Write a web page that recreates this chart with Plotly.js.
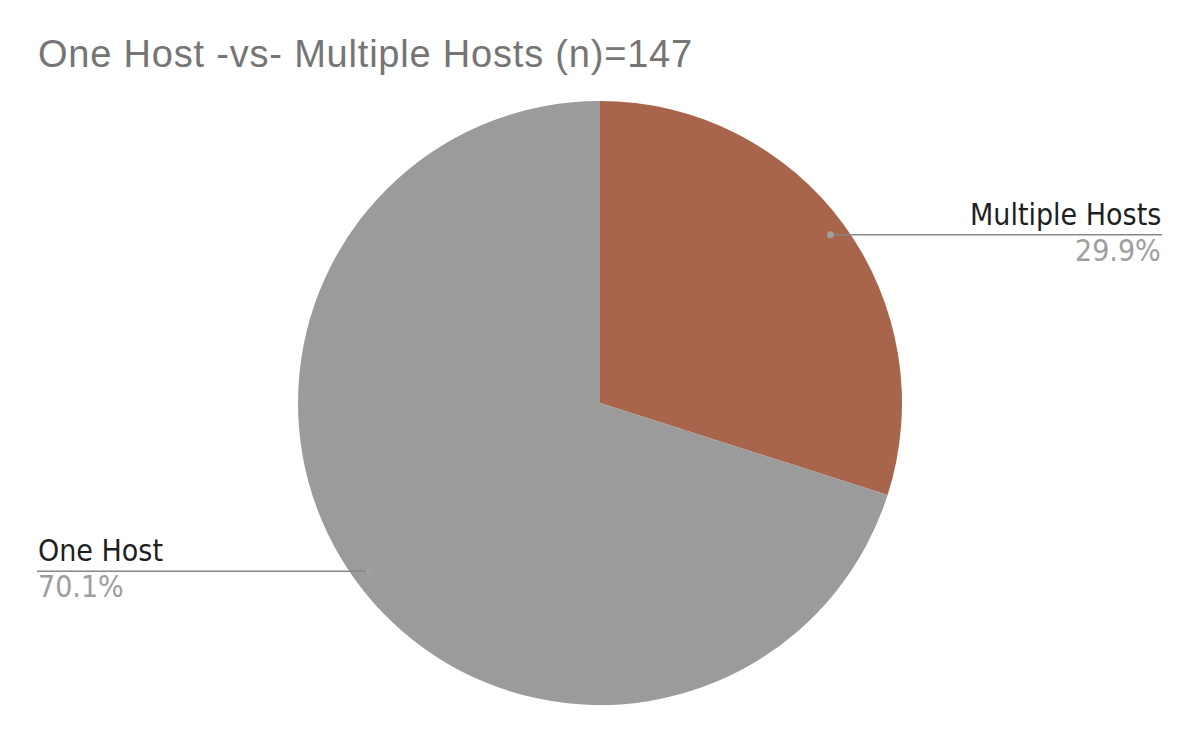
<!DOCTYPE html>
<html>
<head>
<meta charset="utf-8">
<script src="https://cdn.plot.ly/plotly-3.0.1.min.js"></script>
<style>html,body{margin:0;padding:0;background:#fff;}#chart{width:1200px;height:742px;}
.gtitle{letter-spacing:0.8px;}</style>
</head>
<body>
<div id="chart"></div>
<script>
const chartTitle = "One Host -vs- Multiple Hosts (n)=147";
const categories = ["Multiple Hosts", "One Host"];
const counts = [44, 103];
const sliceColors = ["#A9654B", "#9B9B9B"];

const W = 1200, H = 742;
const cxPx = 600, cyPx = 403, rPx = 302;
const domX = [(cxPx - rPx) / W, (cxPx + rPx) / W];
const domY = [(H - cyPx - rPx) / H, (H - cyPx + rPx) / H];

const total = counts.reduce((a, b) => a + b, 0);
const labelFont = "DejaVu Sans Condensed";

const shapes = [];
const annotations = [];
let cum = 0;
counts.forEach((v, i) => {
  const frac = v / total;
  const mid = (cum + frac / 2) * 2 * Math.PI; // clockwise from top
  cum += frac;
  const dx = Math.sin(mid) * rPx * 0.945;
  const dy = -Math.cos(mid) * rPx * 0.945;
  const px = cxPx + dx, py = cyPx + dy;
  const right = dx >= 0;
  const edge = right ? 1162 : 37;
  const toX = x => x / W, toY = y => 1 - y / H;
  shapes.push({type: "line", xref: "paper", yref: "paper",
    x0: toX(px), x1: toX(edge), y0: toY(py), y1: toY(py),
    line: {color: "#878787", width: 1.5}});
  shapes.push({type: "circle", xref: "paper", yref: "paper",
    x0: toX(px - 3.5), x1: toX(px + 3.5), y0: toY(py - 3.5), y1: toY(py + 3.5),
    fillcolor: "#a0a0a0", line: {width: 0}});
  annotations.push({xref: "paper", yref: "paper", x: toX(edge), y: toY(py - 2),
    xanchor: right ? "right" : "left", yanchor: "bottom", showarrow: false,
    text: categories[i], font: {family: labelFont, size: 30, color: "#1f1f1f"}, borderpad: 0});
  annotations.push({xref: "paper", yref: "paper", x: toX(edge), y: toY(py - 3),
    xanchor: right ? "right" : "left", yanchor: "top", showarrow: false,
    text: (frac * 100).toFixed(1) + "%", font: {family: labelFont, size: 30, color: "#9e9e9e"}, borderpad: 0});
});

const data = [{
  type: "pie",
  labels: categories,
  values: counts,
  sort: false,
  direction: "clockwise",
  rotation: 0,
  marker: {colors: sliceColors, line: {width: 0}},
  textinfo: "none",
  hoverinfo: "label+percent",
  domain: {x: domX, y: domY},
  showlegend: false
}];

const layout = {
  width: W, height: H,
  margin: {l: 0, r: 0, t: 0, b: 0},
  paper_bgcolor: "#ffffff",
  title: {text: chartTitle, x: 38 / W, xanchor: "left", xref: "container",
    y: 1 - 54 / H, yanchor: "middle", yref: "container",
    font: {family: "Liberation Sans", size: 38, color: "#757575"}},
  shapes: shapes,
  annotations: annotations
};

Plotly.newPlot("chart", data, layout, {displayModeBar: false, staticPlot: true});
</script>
</body>
</html>
